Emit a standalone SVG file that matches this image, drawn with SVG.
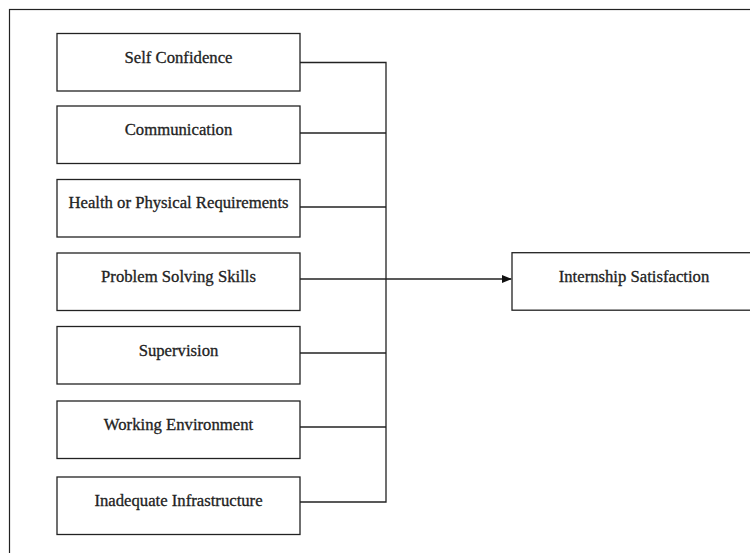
<svg xmlns="http://www.w3.org/2000/svg" width="750" height="553" viewBox="0 0 750 553">
<style>
.box{fill:#fff;stroke:#222;stroke-width:1.3}
.lbl{font-family:"Liberation Serif","Times New Roman",serif;font-size:16.7px;fill:#222;stroke:#222;stroke-width:0.3;text-anchor:middle}
.con{fill:none;stroke:#222;stroke-width:1.3}
</style>
<defs>
<marker id="arr" markerWidth="10" markerHeight="8" refX="9" refY="4" orient="auto" markerUnits="userSpaceOnUse">
<path d="M0,0 L10,4 L0,8 Z" fill="#111"/>
</marker>
</defs>
<rect width="750" height="553" fill="#fff"/>
<rect x="9.5" y="9.5" width="760" height="560" fill="none" stroke="#222" stroke-width="1.2"/>
<g id="n1"><rect class="box" x="57" y="33.5" width="243" height="57.5"/><text class="lbl" x="178.5" y="63">Self Confidence</text></g>
<g id="n2"><rect class="box" x="57" y="106" width="243" height="57.5"/><text class="lbl" x="178.5" y="135">Communication</text></g>
<g id="n3"><rect class="box" x="57" y="179.5" width="243" height="57.5"/><text class="lbl" x="178.5" y="208">Health or Physical Requirements</text></g>
<g id="n4"><rect class="box" x="57" y="253" width="243" height="57.5"/><text class="lbl" x="178.5" y="282">Problem Solving Skills</text></g>
<g id="n5"><rect class="box" x="57" y="326.5" width="243" height="57.5"/><text class="lbl" x="178.5" y="356">Supervision</text></g>
<g id="n6"><rect class="box" x="57" y="401" width="243" height="57.5"/><text class="lbl" x="178.5" y="430">Working Environment</text></g>
<g id="n7"><rect class="box" x="57" y="477" width="243" height="57.5"/><text class="lbl" x="178.5" y="506">Inadequate Infrastructure</text></g>
<g id="n8"><rect class="box" x="512" y="252.7" width="250" height="57.5"/><text class="lbl" x="634" y="282">Internship Satisfaction</text></g>
<g id="connectors">
<path class="con" d="M300,62.5 H386 V502 H300"/>
<path class="con" d="M300,133 H386"/>
<path class="con" d="M300,207 H386"/>
<path class="con" d="M300,353 H386"/>
<path class="con" d="M300,427 H386"/>
<path class="con" d="M300,279 H511" marker-end="url(#arr)"/>
</g>
</svg>
